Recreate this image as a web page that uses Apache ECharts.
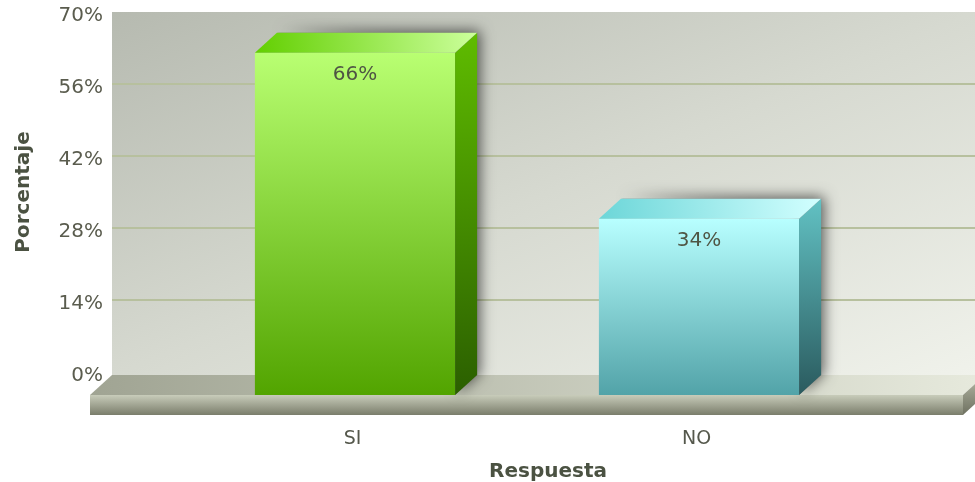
<!DOCTYPE html>
<html lang="es">
<head>
<meta charset="UTF-8">
<title>Respuesta</title>
<script src="https://cdn.jsdelivr.net/npm/echarts@6/dist/echarts.min.js"></script>
<style>
    html, body { margin: 0; padding: 0; background: #fff; }
    #chart { width: 975px; height: 482px; filter: blur(0.5px); }
</style>
</head>
<body>
<div id="chart"></div>
<script>
var categories = ['SI', 'NO'];
var porcentajes = [66, 34];

// colores de cada barra: frente, lado, tapa
var barColors = [
    { front: ['#b9ff72', '#52a400'], side: ['#5fbc00', '#2b5f00'], top: ['#62cf00', '#ccff9c'] },
    { front: ['#b8ffff', '#52a3a8'], side: ['#62c2c4', '#2a5a5e'], top: ['#6cd6d8', '#d2ffff'] }
];

var DX = 22, DY = 20; // profundidad 3d
var font = '"DejaVu Sans", Verdana, sans-serif';
var myChart = echarts.init(document.getElementById('chart'));

function vGrad(c) {
    return new echarts.graphic.LinearGradient(0, 0, 0, 1, [{ offset: 0, color: c[0] }, { offset: 1, color: c[1] }]);
}
function diagGrad(c) {
    return new echarts.graphic.LinearGradient(0, 1, 1, 0, [{ offset: 0, color: c[0] }, { offset: 1, color: c[1] }]);
}

function renderBar(params, api) {
    var idx = api.value(0);
    var base = api.coord([idx, 0]);
    var head = api.coord([idx, api.value(1)]);
    var w = api.size([1, 0])[0] * 0.582;
    var l = base[0] - w / 2, r = base[0] + w / 2, t = head[1], b = base[1];
    var c = barColors[idx];
    return {
        type: 'group',
        children: [
            {
                // sombra solo arriba y a la derecha
                type: 'polygon',
                shape: { points: [[l + DX, t - DY], [r + DX, t - DY], [r + DX, b - DY], [r, b], [r, t]] },
                style: { fill: '#777', shadowBlur: 14, shadowColor: 'rgba(0,0,0,0.6)', shadowOffsetX: 3, shadowOffsetY: -2 }
            },
            { type: 'rect', shape: { x: l, y: t, width: r - l, height: b - t }, style: { fill: vGrad(c.front) } },
            { type: 'polygon', shape: { points: [[r, t], [r + DX, t - DY], [r + DX, b - DY], [r, b]] }, style: { fill: vGrad(c.side) } },
            { type: 'polygon', shape: { points: [[l, t], [l + DX, t - DY], [r + DX, t - DY], [r, t]] }, style: { fill: diagGrad(c.top) } },
            {
                type: 'text',
                style: {
                    text: api.value(1) + '%', x: base[0], y: t + 22, align: 'center', verticalAlign: 'middle',
                    fill: '#4f5544', font: '20px ' + font
                }
            }
        ]
    };
}

var option = {
    animation: false,
    // pared, piso y zocalo
    graphic: [
        {
            type: 'rect', z: -1, silent: true,
            shape: { x: 112, y: 12, width: 863, height: 364 },
            style: {
                fill: new echarts.graphic.LinearGradient(112, 12, 373, 630, [
                    { offset: 0, color: '#b6bab0' }, { offset: 0.5, color: '#d6d9d0' }, { offset: 1, color: '#f0f2eb' }
                ], true)
            }
        },
        {
            type: 'polygon', z: 1, silent: true,
            shape: { points: [[90, 395], [112, 375], [975, 375], [975, 384], [963, 395]] },
            style: {
                fill: new echarts.graphic.LinearGradient(0, 0, 1, 0, [
                    { offset: 0, color: '#a0a493' }, { offset: 1, color: '#e6e9dc' }
                ])
            }
        },
        {
            type: 'rect', z: 1, silent: true,
            shape: { x: 90, y: 395, width: 873, height: 20 },
            style: { fill: vGrad(['#c8ccba', '#7a7d6b']) }
        },
        {
            type: 'polygon', z: 1, silent: true,
            shape: { points: [[963, 395], [975, 384], [975, 404], [963, 415]] },
            style: { fill: vGrad(['#a6a997', '#6e7160']) }
        }
    ],
    grid: [
        { left: 112, right: 0, top: 12, bottom: 110, outerBoundsMode: 'none' },
        { left: 183, right: 104, top: 32, bottom: 87, outerBoundsMode: 'none' }
    ],
    xAxis: [
        { gridIndex: 0, type: 'value', show: false },
        {
            gridIndex: 1, type: 'category', data: categories,
            name: 'Respuesta', nameLocation: 'middle', nameGap: 67,
            nameTextStyle: { fontFamily: font, fontWeight: 'bold', fontSize: 20, color: '#4b5242', padding: [0, 0, 0, 42] },
            axisLine: { show: false }, axisTick: { show: false },
            axisLabel: { margin: 35, fontFamily: font, fontSize: 19, color: '#55584c', padding: [0, 5, 0, 0] }
        }
    ],
    yAxis: [
        {
            gridIndex: 0, type: 'value', min: 0, max: 70, interval: 14,
            name: 'Porcentaje', nameLocation: 'middle', nameGap: 78, nameRotate: 90,
            nameTextStyle: { fontFamily: font, fontWeight: 'bold', fontSize: 20, color: '#4b5242' },
            axisLine: { show: false }, axisTick: { show: false },
            axisLabel: {
                margin: 9, formatter: '{a|{value}%}',
                rich: { a: { fontFamily: font, fontSize: 20, color: '#5a5c4e', padding: [7, 0, 0, 0] } }
            },
            splitLine: { show: true, showMinLine: false, showMaxLine: false, lineStyle: { color: '#b7c09e', width: 2 } }
        },
        { gridIndex: 1, type: 'value', min: 0, max: 70, interval: 14, show: false }
    ],
    series: [
        {
            type: 'custom', xAxisIndex: 1, yAxisIndex: 1, z: 3, clip: false,
            renderItem: renderBar,
            data: porcentajes.map(function (v, i) { return [i, v]; })
        }
    ]
};
myChart.setOption(option);
</script>
</body>
</html>
